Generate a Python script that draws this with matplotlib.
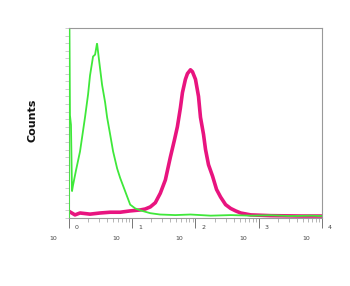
import numpy as np
import matplotlib
matplotlib.use("Agg")
import matplotlib.pyplot as plt
from matplotlib.ticker import FixedLocator, NullFormatter, LogLocator
import matplotlib.transforms as mtransforms

# Log10 fluorescence intensity positions and counts (percent of max scale)
green_log = [0.0, 0.0, 0.008, 0.016, 0.032, 0.048, 0.063, 0.111, 0.175, 0.254, 0.302, 0.333,
             0.381, 0.413, 0.444, 0.476, 0.524, 0.571, 0.603, 0.651, 0.698, 0.762,
             0.810, 0.889, 0.968, 1.048, 1.127, 1.286, 1.44, 1.68, 1.92, 2.24,
             2.56, 2.87, 3.19, 3.51, 3.83, 4.0]
green_counts = [0, 99, 99, 54, 49, 14, 17, 25, 35, 53, 65, 75,
                85, 86, 92, 83, 70, 61, 53, 44, 35, 26,
                21, 14, 7, 5, 4, 2.5, 1.8, 1.5, 1.8, 1.2,
                1.5, 1.2, 1.4, 1.0, 1.2, 1.0]

magenta_log = [0.0, 0.095, 0.175, 0.333, 0.492, 0.651, 0.81, 0.968, 1.127, 1.206,
               1.286, 1.365, 1.444, 1.524, 1.603, 1.667, 1.714, 1.762, 1.794, 1.841,
               1.873, 1.921, 1.952, 2.0, 2.048, 2.079, 2.127, 2.159, 2.206, 2.27,
               2.333, 2.397, 2.476, 2.556, 2.635, 2.714, 2.873, 3.19, 3.667, 4.0]
magenta_counts = [3.5, 1.6, 2.6, 2.0, 2.6, 3.0, 3.0, 3.7, 4.2, 4.7,
                  5.8, 8, 13, 20, 32, 41, 48, 58, 66, 73,
                  76, 78, 77, 73, 64, 53, 44, 36, 28, 22,
                  15, 11, 7, 5, 3.7, 2.6, 1.6, 1.2, 1.0, 1.0]

decades = [0, 1, 2, 3, 4]
tick_base = "10"
y_label = "Counts"

fig = plt.figure(figsize=(3.5, 2.86), dpi=100)
ax = fig.add_axes([0.197, 0.238, 0.723, 0.664])

gx = 10 ** np.array(green_log)
mx = 10 ** np.array(magenta_log)
ax.plot(gx, green_counts, color="#3fe83a", lw=1.3, zorder=3, solid_joinstyle="miter")
ax.plot(mx, magenta_counts, color="#e8147f", lw=2.6, zorder=2)

ax.set_xscale("log")
ax.set_xlim(1, 10 ** 4)
ax.set_ylim(0, 100)

for s in ax.spines.values():
    s.set_color("#999999")
    s.set_linewidth(0.8)

ax.xaxis.set_major_locator(FixedLocator([10 ** d for d in decades]))
ax.xaxis.set_minor_locator(LogLocator(base=10, subs=np.arange(2, 10)))
ax.xaxis.set_major_formatter(NullFormatter())
ax.xaxis.set_minor_formatter(NullFormatter())
ax.tick_params(axis="x", which="major", direction="out", length=7, width=0.7, color="#777777")
ax.tick_params(axis="x", which="minor", direction="out", length=3, width=0.5, color="#999999")

ax.yaxis.set_major_locator(FixedLocator(np.arange(0, 101, 4)))
ax.yaxis.set_major_formatter(NullFormatter())
ax.tick_params(axis="y", which="major", direction="out", length=3, width=0.5, color="#bbbbbb")

trans = mtransforms.blended_transform_factory(ax.transData, ax.transAxes)
for d in decades:
    base_off = mtransforms.offset_copy(trans, fig=fig, x=-16, y=-21, units="dots")
    exp_off = mtransforms.offset_copy(trans, fig=fig, x=8, y=-10, units="dots")
    ax.text(10 ** d, 0, tick_base, transform=base_off, ha="center", va="center",
            fontsize=4.5, color="#444444")
    ax.text(10 ** d, 0, str(d), transform=exp_off, ha="center", va="center",
            fontsize=4.5, color="#444444")

fig.text(33 / 350, 1 - 120 / 286, y_label, rotation=90, ha="center", va="center",
         fontsize=8, fontweight="bold", color="#111111")

fig.savefig("out.png", dpi=100)
